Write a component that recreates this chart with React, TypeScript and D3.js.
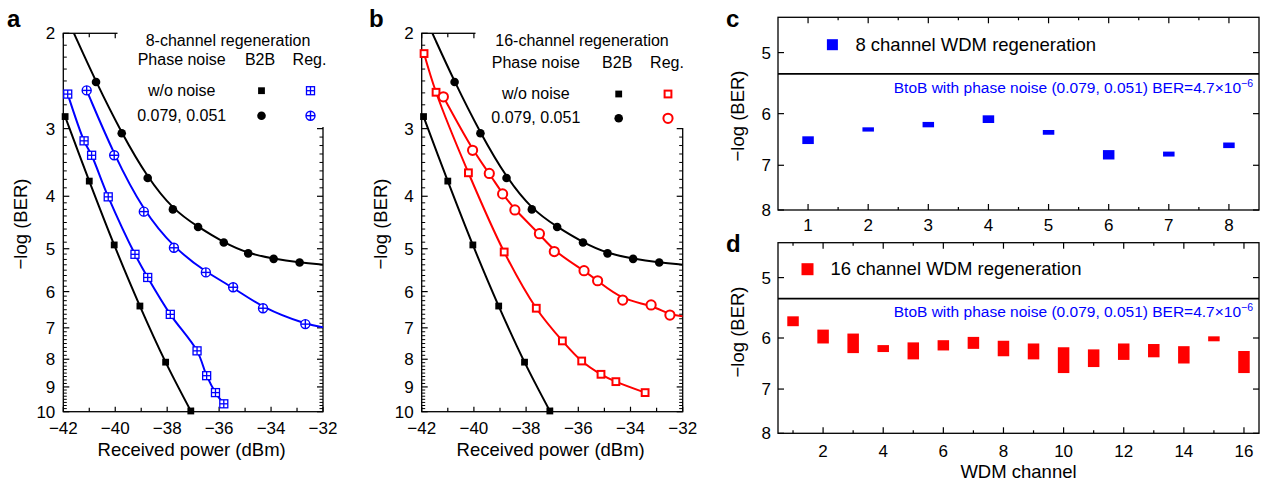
import React from "react";
import * as d3 from "d3";

const FONT = "'Liberation Sans', Arial, Helvetica, sans-serif";

// ---------- Panels a / b : [received power (dBm), -log(BER)] ----------
const b2bNoNoise: [number, number][] = [
  [-41.93, 2.85], [-41.0, 3.75], [-40.04, 4.92], [-39.05, 6.38], [-38.06, 8.1], [-37.09, 9.97],
];
const b2bPhaseNoise: [number, number][] = [
  [-40.74, 2.46], [-39.75, 3.06], [-38.75, 3.7], [-37.78, 4.23], [-36.81, 4.56],
  [-35.82, 4.87], [-34.88, 5.1], [-33.9, 5.22], [-32.9, 5.3],
];
const b2bPhaseFitStart: [number, number] = [-41.59, 2.0];
const b2bPhaseFitEnd: [number, number] = [-32, 5.35];

const reg8NoNoise: [number, number][] = [
  [-41.83, 2.59], [-41.2, 3.16], [-40.91, 3.36], [-40.27, 4.01], [-39.24, 5.12], [-38.75, 5.65],
  [-37.88, 6.61], [-36.85, 7.72], [-36.48, 8.58], [-36.14, 9.22], [-35.82, 9.67],
];
const reg8PhaseNoise: [number, number][] = [
  [-41.1, 2.55], [-40.04, 3.36], [-38.9, 4.27], [-37.74, 4.98], [-36.51, 5.53],
  [-35.46, 5.89], [-34.31, 6.44], [-32.68, 6.89],
];
const reg8PhaseFitEnd: [number, number] = [-32, 6.98];

const reg16NoNoise: [number, number][] = [
  [-41.91, 2.18], [-41.45, 2.57], [-40.21, 3.62], [-38.84, 5.07], [-37.61, 6.44],
  [-36.61, 7.4], [-35.87, 8.06], [-35.13, 8.53], [-34.56, 8.8], [-33.44, 9.22],
];
const reg16PhaseNoise: [number, number][] = [
  [-41.17, 2.62], [-40.05, 3.29], [-39.41, 3.63], [-38.9, 3.96], [-38.43, 4.24], [-37.49, 4.69],
  [-36.92, 5.06], [-35.78, 5.49], [-35.26, 5.73], [-34.3, 6.22], [-33.21, 6.35], [-32.49, 6.63],
];
const reg16PhaseFitEnd: [number, number] = [-32, 6.66];

const powerTicks = [-42, -40, -38, -36, -34, -32];
const powerMinorTicks = [-41, -39, -37, -35, -33];
const berTicks = [2, 3, 4, 5, 6, 7, 8, 9, 10];

// ---------- Panels c / d : per-channel -log(BER) range ----------
const ch8 = [1, 2, 3, 4, 5, 6, 7, 8];
const ch8Low = [6.42, 6.25, 6.15, 6.03, 6.3, 6.69, 6.72, 6.54];
const ch8High = [6.57, 6.33, 6.25, 6.17, 6.39, 6.88, 6.82, 6.65];

const ch16 = [1, 2, 3, 4, 5, 6, 7, 8, 9, 10, 11, 12, 13, 14, 15, 16];
const ch16Low = [5.62, 5.85, 5.92, 6.13, 6.08, 6.04, 5.98, 6.05, 6.1, 6.17, 6.21, 6.1, 6.11, 6.15, 5.97, 6.24];
const ch16High = [5.79, 6.1, 6.28, 6.26, 6.4, 6.23, 6.2, 6.34, 6.4, 6.67, 6.55, 6.41, 6.36, 6.48, 6.06, 6.67];

const wdmBerTicks = [5, 6, 7, 8];
const ch8Ticks = [1, 2, 3, 4, 5, 6, 7, 8];
const ch8MinorTicks = [1.5, 2.5, 3.5, 4.5, 5.5, 6.5, 7.5];
const ch16Ticks = [2, 4, 6, 8, 10, 12, 14, 16];
const ch16MinorTicks = [1, 3, 5, 7, 9, 11, 13, 15];
const btobBER = -Math.log10(4.7e-6);

const BLUE = "#0000ff";
const RED = "#ff0000";

type MType = "square" | "circle" | "squarePlus" | "circlePlus" | "openSquare" | "openCircle";

function Marker({ t, cx, cy, c }: { t: MType; cx: number; cy: number; c: string }) {
  if (t === "square") return <rect x={cx - 3.4} y={cy - 3.4} width={6.8} height={6.8} fill={c} />;
  if (t === "circle") return <circle cx={cx} cy={cy} r={4.3} fill={c} />;
  if (t === "squarePlus")
    return (
      <g stroke={c} strokeWidth={1.3} fill="white">
        <rect x={cx - 4} y={cy - 4} width={8} height={8} />
        <line x1={cx - 4} x2={cx + 4} y1={cy} y2={cy} />
        <line x1={cx} x2={cx} y1={cy - 4} y2={cy + 4} />
      </g>
    );
  if (t === "circlePlus")
    return (
      <g stroke={c} strokeWidth={1.4} fill="white">
        <circle cx={cx} cy={cy} r={4.5} />
        <line x1={cx - 4.5} x2={cx + 4.5} y1={cy} y2={cy} />
        <line x1={cx} x2={cx} y1={cy - 4.5} y2={cy + 4.5} />
      </g>
    );
  if (t === "openSquare")
    return <rect x={cx - 3.4} y={cy - 3.4} width={6.8} height={6.8} fill="white" stroke={c} strokeWidth={2} />;
  return <circle cx={cx} cy={cy} r={4.6} fill="white" stroke={c} strokeWidth={2} />;
}

interface PowerPanelProps {
  id: string;
  L: number;
  R: number;
  letter: string;
  letterX: number;
  ylabelX: number;
  coverX: number;
  coverY: number;
  color: string;
  regNo: [number, number][];
  regPh: [number, number][];
  regPhEnd: [number, number];
  regNoType: MType;
  regPhType: MType;
  title: string;
  leg: { title: number; phase: number; b2b: number; reg: number; yT: number; yH: number; y1: number; y2: number };
}

const T = 33.3;
const B = 411.7;

function PowerPanel(p: PowerPanelProps) {
  const x = d3.scaleLinear().domain([-42, -32]).range([p.L, p.R]);
  const y = d3.scaleLog().domain([2, 10]).range([T, B]);
  const smooth = d3
    .line<[number, number]>()
    .x((d) => x(d[0]))
    .y((d) => y(d[1]))
    .curve(d3.curveCatmullRom.alpha(0.5));
  const fit = d3
    .line<[number, number]>()
    .x((d) => x(d[0]))
    .y((d) => y(d[1]))
    .curve(d3.curveBasis);

  const minorY: number[] = [];
  for (let i = 0; i < berTicks.length - 1; i++) {
    const a = y(berTicks[i]);
    const b = y(berTicks[i + 1]);
    for (let k = 1; k < 8; k++) minorY.push(a + ((b - a) * k) / 8);
  }

  const clipId = `clip-${p.id}`;
  return (
    <g>
      <defs>
        <clipPath id={clipId}>
          <rect x={p.L} y={T} width={p.R - p.L} height={B - T} />
        </clipPath>
      </defs>
      <rect x={p.L} y={T} width={p.R - p.L} height={B - T} fill="none" stroke="black" strokeWidth={1.3} />
      {berTicks.map((v) => (
        <g key={"yt" + v} stroke="black" strokeWidth={1.2}>
          <line x1={p.L} x2={p.L + 6} y1={y(v)} y2={y(v)} />
          <line x1={p.R} x2={p.R - 6} y1={y(v)} y2={y(v)} />
        </g>
      ))}
      {minorY.map((py, i) => (
        <g key={"ym" + i} stroke="black" strokeWidth={1}>
          <line x1={p.L} x2={p.L + 3.5} y1={py} y2={py} />
          <line x1={p.R} x2={p.R - 3.5} y1={py} y2={py} />
        </g>
      ))}
      {powerTicks.map((v) => (
        <g key={"xt" + v} stroke="black" strokeWidth={1.2}>
          <line x1={x(v)} x2={x(v)} y1={B} y2={B - 5} />
          <line x1={x(v)} x2={x(v)} y1={T} y2={T + 5} />
        </g>
      ))}
      {powerMinorTicks.map((v) => (
        <g key={"xm" + v} stroke="black" strokeWidth={1.2}>
          <line x1={x(v)} x2={x(v)} y1={B} y2={B - 4} />
          <line x1={x(v)} x2={x(v)} y1={T} y2={T + 4} />
        </g>
      ))}
      <rect x={p.coverX} y={0} width={p.R + 8 - p.coverX} height={p.coverY} fill="white" />

      <g clipPath={`url(#${clipId})`} fill="none" strokeWidth={2}>
        <path d={smooth(b2bNoNoise) || ""} stroke="black" />
        <path d={fit([b2bPhaseFitStart, ...b2bPhaseNoise, b2bPhaseFitEnd]) || ""} stroke="black" />
        <path d={smooth(p.regNo) || ""} stroke={p.color} />
        <path d={fit([...p.regPh, p.regPhEnd]) || ""} stroke={p.color} />
      </g>
      {b2bNoNoise.map((d, i) => (
        <Marker key={"bn" + i} t="square" cx={x(d[0])} cy={y(d[1])} c="black" />
      ))}
      {b2bPhaseNoise.map((d, i) => (
        <Marker key={"bp" + i} t="circle" cx={x(d[0])} cy={y(d[1])} c="black" />
      ))}
      {p.regNo.map((d, i) => (
        <Marker key={"rn" + i} t={p.regNoType} cx={x(d[0])} cy={y(d[1])} c={p.color} />
      ))}
      {p.regPh.map((d, i) => (
        <Marker key={"rp" + i} t={p.regPhType} cx={x(d[0])} cy={y(d[1])} c={p.color} />
      ))}

      {/* tick labels */}
      <g fontFamily={FONT} fontSize={17} fill="black">
        {berTicks.map((v) => (
          <text key={"yl" + v} x={p.L - 8} y={y(v)} dy="0.35em" textAnchor="end">
            {v}
          </text>
        ))}
        {powerTicks.map((v) => (
          <text key={"xl" + v} x={x(v)} y={434} textAnchor="middle">
            {String(v).replace("-", "\u2212")}
          </text>
        ))}
      </g>
      <text x={(p.L + p.R) / 2 - 1.5} y={456} textAnchor="middle" fontFamily={FONT} fontSize={18.5}>
        Received power (dBm)
      </text>
      <text
        transform={`translate(${p.ylabelX},224) rotate(-90)`}
        textAnchor="middle"
        dominantBaseline="central"
        fontFamily={FONT}
        fontSize={18.5}
      >
        {"\u2212log (BER)"}
      </text>
      <text x={p.letterX} y={26.5} fontFamily={FONT} fontSize={24} fontWeight="bold">
        {p.letter}
      </text>

      {/* legend */}
      <g fontFamily={FONT} fontSize={16} textAnchor="middle">
        <text x={p.leg.title} y={p.leg.yT}>{p.title}</text>
        <text x={p.leg.phase} y={p.leg.yH}>Phase noise</text>
        <text x={p.leg.b2b} y={p.leg.yH}>B2B</text>
        <text x={p.leg.reg} y={p.leg.yH}>Reg.</text>
        <text x={p.leg.phase} y={p.leg.y1 + 5}>w/o noise</text>
        <text x={p.leg.phase} y={p.leg.y2 + 5}>0.079, 0.051</text>
      </g>
      <Marker t="square" cx={p.leg.b2b + 1.5} cy={p.leg.y1} c="black" />
      <Marker t={p.regNoType} cx={p.leg.reg + 1} cy={p.leg.y1} c={p.color} />
      <Marker t="circle" cx={p.leg.b2b + 1.5} cy={p.leg.y2} c="black" />
      <Marker t={p.regPhType} cx={p.leg.reg + 1} cy={p.leg.y2} c={p.color} />
    </g>
  );
}

interface WdmPanelProps {
  T: number;
  B: number;
  letter: string;
  chs: number[];
  low: number[];
  high: number[];
  color: string;
  maxCh: number;
  ticks: number[];
  minor: number[];
  legendText: string;
  legSq: number;
  legY: number;
  legX: number;
  btobY: number;
  tickLabelY: number;
  ylabelY: number;
}

const CL = 778;
const CR = 1259;

function WdmPanel(p: WdmPanelProps) {
  const x = d3.scaleLinear().domain([0.5, p.maxCh + 0.5]).range([CL, CR]);
  const y = d3.scaleLog().domain([4.5, 8]).range([p.T, p.B]);
  const bw = 11.5;
  return (
    <g>
      <rect x={CL} y={p.T} width={CR - CL} height={p.B - p.T} fill="none" stroke="black" strokeWidth={1.3} />
      {wdmBerTicks.map((v) => (
        <g key={"yt" + v} stroke="black" strokeWidth={1.2}>
          <line x1={CL} x2={CL + 6} y1={y(v)} y2={y(v)} />
          <line x1={CR} x2={CR - 6} y1={y(v)} y2={y(v)} />
        </g>
      ))}
      {p.ticks.map((v) => (
        <g key={"xt" + v} stroke="black" strokeWidth={1.2}>
          <line x1={x(v)} x2={x(v)} y1={p.B} y2={p.B - 6} />
          <line x1={x(v)} x2={x(v)} y1={p.T} y2={p.T + 6} />
        </g>
      ))}
      {p.minor.map((v) => (
        <g key={"xm" + v} stroke="black" strokeWidth={1.2}>
          <line x1={x(v)} x2={x(v)} y1={p.B} y2={p.B - 3} />
          <line x1={x(v)} x2={x(v)} y1={p.T} y2={p.T + 3} />
        </g>
      ))}
      <line x1={CL} x2={CR} y1={y(btobBER)} y2={y(btobBER)} stroke="black" strokeWidth={1.6} />
      {p.chs.map((c, i) => (
        <rect
          key={"bar" + c}
          x={x(c) - bw / 2}
          y={y(p.low[i])}
          width={bw}
          height={y(p.high[i]) - y(p.low[i])}
          fill={p.color}
        />
      ))}
      <rect x={p.legX - p.legSq / 2} y={p.legY - p.legSq / 2} width={p.legSq} height={p.legSq} fill={p.color} />
      <text x={p.legX + 23} y={p.legY + 6} fontFamily={FONT} fontSize={18.5}>
        {p.legendText}
      </text>
      <text x={1253} y={p.btobY} textAnchor="end" fontFamily={FONT} fontSize={15.5} fill={BLUE}>
        {"BtoB with phase noise (0.079, 0.051) BER=4.7\u00d710"}
        <tspan dy={-6} fontSize={10.5}>{"\u22126"}</tspan>
      </text>
      <g fontFamily={FONT} fontSize={17}>
        {wdmBerTicks.map((v) => (
          <text key={"yl" + v} x={CL - 7} y={y(v)} dy="0.35em" textAnchor="end">
            {v}
          </text>
        ))}
        {p.ticks.map((v) => (
          <text key={"xl" + v} x={x(v)} y={p.tickLabelY} textAnchor="middle">
            {v}
          </text>
        ))}
      </g>
      <text
        transform={`translate(737.5,${p.ylabelY}) rotate(-90)`}
        textAnchor="middle"
        dominantBaseline="central"
        fontFamily={FONT}
        fontSize={18.5}
      >
        {"\u2212log (BER)"}
      </text>
      <text x={726} y={p.T + 9.5} fontFamily={FONT} fontSize={24} fontWeight="bold">
        {p.letter}
      </text>
    </g>
  );
}

export default function App() {
  return (
    <div style={{ position: "absolute", left: 0, top: 0 }}>
      <svg width={1261} height={487} style={{ display: "block", background: "white" }}>
        <rect width={1261} height={487} fill="white" />
        <PowerPanel
          id="a"
          L={63.3}
          R={323}
          letter="a"
          letterX={7}
          ylabelX={20}
          coverX={117.5}
          coverY={127}
          color={BLUE}
          regNo={reg8NoNoise}
          regPh={reg8PhaseNoise}
          regPhEnd={reg8PhaseFitEnd}
          regNoType="squarePlus"
          regPhType="circlePlus"
          title="8-channel regeneration"
          leg={{ title: 228, phase: 181.7, b2b: 260, reg: 309.5, yT: 46, yH: 65, y1: 90.7, y2: 115.7 }}
        />
        <PowerPanel
          id="b"
          L={421.7}
          R={682.7}
          letter="b"
          letterX={369}
          ylabelX={380.5}
          coverX={475.5}
          coverY={128}
          color={RED}
          regNo={reg16NoNoise}
          regPh={reg16PhaseNoise}
          regPhEnd={reg16PhaseFitEnd}
          regNoType="openSquare"
          regPhType="openCircle"
          title="16-channel regeneration"
          leg={{ title: 582, phase: 535.8, b2b: 617.2, reg: 667, yT: 46, yH: 68, y1: 94, y2: 118.3 }}
        />
        <WdmPanel
          T={17.3}
          B={210}
          letter="c"
          chs={ch8}
          low={ch8Low}
          high={ch8High}
          color={BLUE}
          maxCh={8}
          ticks={ch8Ticks}
          minor={ch8MinorTicks}
          legendText="8 channel WDM regeneration"
          legSq={11}
          legX={832.4}
          legY={44.7}
          btobY={93.3}
          tickLabelY={231}
          ylabelY={116}
        />
        <WdmPanel
          T={242.7}
          B={433.3}
          letter="d"
          chs={ch16}
          low={ch16Low}
          high={ch16High}
          color={RED}
          maxCh={16}
          ticks={ch16Ticks}
          minor={ch16MinorTicks}
          legendText="16 channel WDM regeneration"
          legSq={12}
          legX={807.5}
          legY={269.2}
          btobY={317.3}
          tickLabelY={456.5}
          ylabelY={332}
        />
        <text x={1018.5} y={478} textAnchor="middle" fontFamily={FONT} fontSize={18.5}>
          WDM channel
        </text>
      </svg>
    </div>
  );
}
